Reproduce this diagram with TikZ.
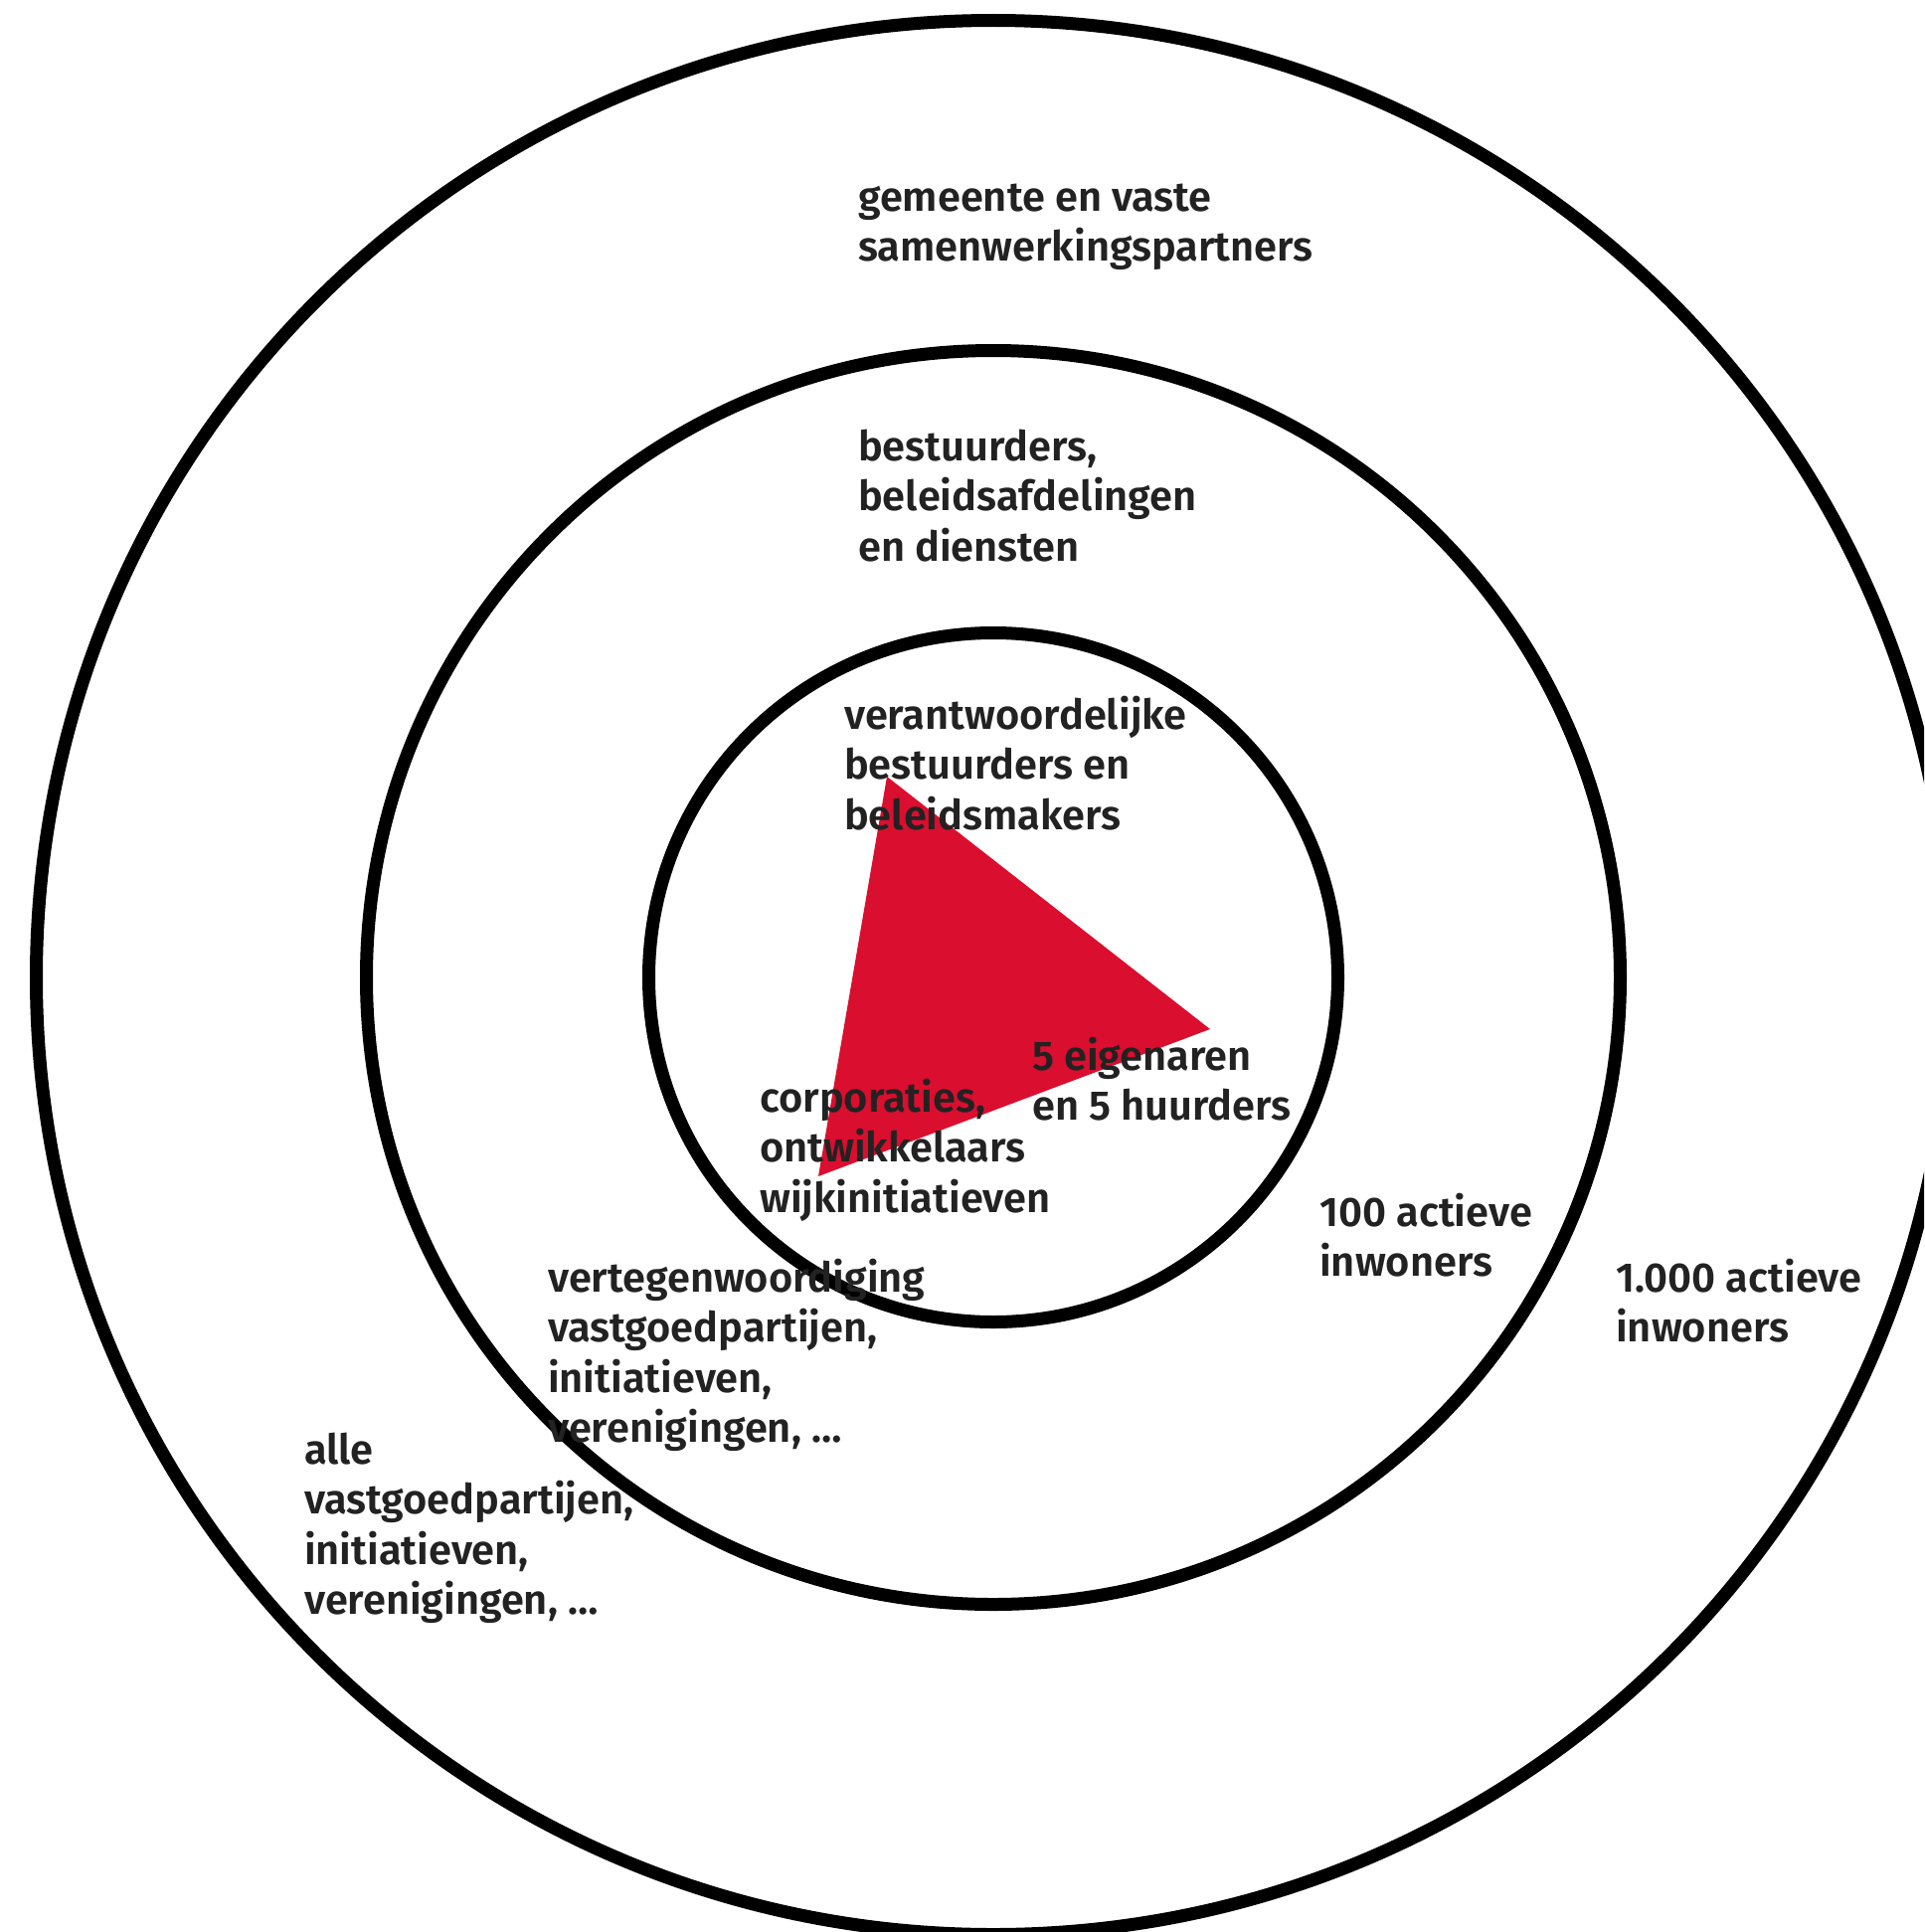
\documentclass[tikz,border=0pt]{standalone}
\usepackage{fontspec}
\setmainfont{Open Sans}
\newfontfamily\reffont{Open Sans}
\IfFontExistsTF{Fira Sans SemiBold}
  {\newfontfamily\lblfont{Fira Sans SemiBold}}
  {\IfFontExistsTF{Lato Semibold}
    {\newfontfamily\lblfont{Lato Semibold}}
    {\newfontfamily\lblfont{Open Sans}}}
\newlength\wref
\newlength\wlbl
\settowidth\wref{\reffont\fontsize{20}{25}\selectfont samenwerkingspartners}
\settowidth\wlbl{\lblfont\fontsize{20}{25}\selectfont samenwerkingspartners}
\pgfmathsetmacro\lblratio{\wref/\wlbl}
\pgfmathsetmacro\lblsize{40.5*\lblratio}
\definecolor{trired}{RGB}{218,14,46}
\definecolor{txtgray}{RGB}{34,34,34}
\tikzset{
  ring/.style={draw=black, line width=13pt},
  lbl/.style={anchor=base west, inner sep=0pt, align=left, text=txtgray,
    font=\lblfont\fontsize{\lblsize}{50.5}\selectfont}
}
\begin{document}
\begin{tikzpicture}[x=1pt,y=-1pt]
\useasboundingbox (0,0) rectangle (1935,1943);
\clip (0,0) rectangle (1935,1943);
\fill[white] (0,0) rectangle (1935,1943);
\coordinate (c) at (999,983);
\draw[ring] (c) circle[radius=962.5];
\draw[ring] (c) circle[radius=630.5];
\draw[ring] (c) circle[radius=346.5];
\coordinate (t1) at (892,781);
\coordinate (t2) at (1217,1035);
\coordinate (t3) at (823,1183);
\fill[trired] (t1) -- (t2) -- (t3) -- cycle;
% anchor base west = baseline of the last line
\node[lbl] (gem) at (863,262.5) {gemeente en vaste\\samenwerkingspartners};
\node[lbl] (bes) at (863,564) {bestuurders,\\beleidsafdelingen\\en diensten};
\node[lbl] (ver) at (849,834) {verantwoordelijke\\bestuurders en\\beleidsmakers};
\node[lbl] (eig) at (1038,1126.5) {5 eigenaren\\en 5 huurders};
\node[lbl] (cor) at (764,1219) {corporaties,\\ontwikkelaars\\wijkinitiatieven};
\node[lbl] (hon) at (1327,1283.5) {100 actieve\\inwoners};
\node[lbl] (dui) at (1625,1349.5) {1.000 actieve\\inwoners};
\node[lbl] (vtg) at (551,1450.5) {vertegenwoordiging\\vastgoedpartijen,\\initiatieven,\\verenigingen, …};
\node[lbl] (all) at (306,1623.5) {alle\\vastgoedpartijen,\\initiatieven,\\verenigingen, …};
\end{tikzpicture}
\end{document}
